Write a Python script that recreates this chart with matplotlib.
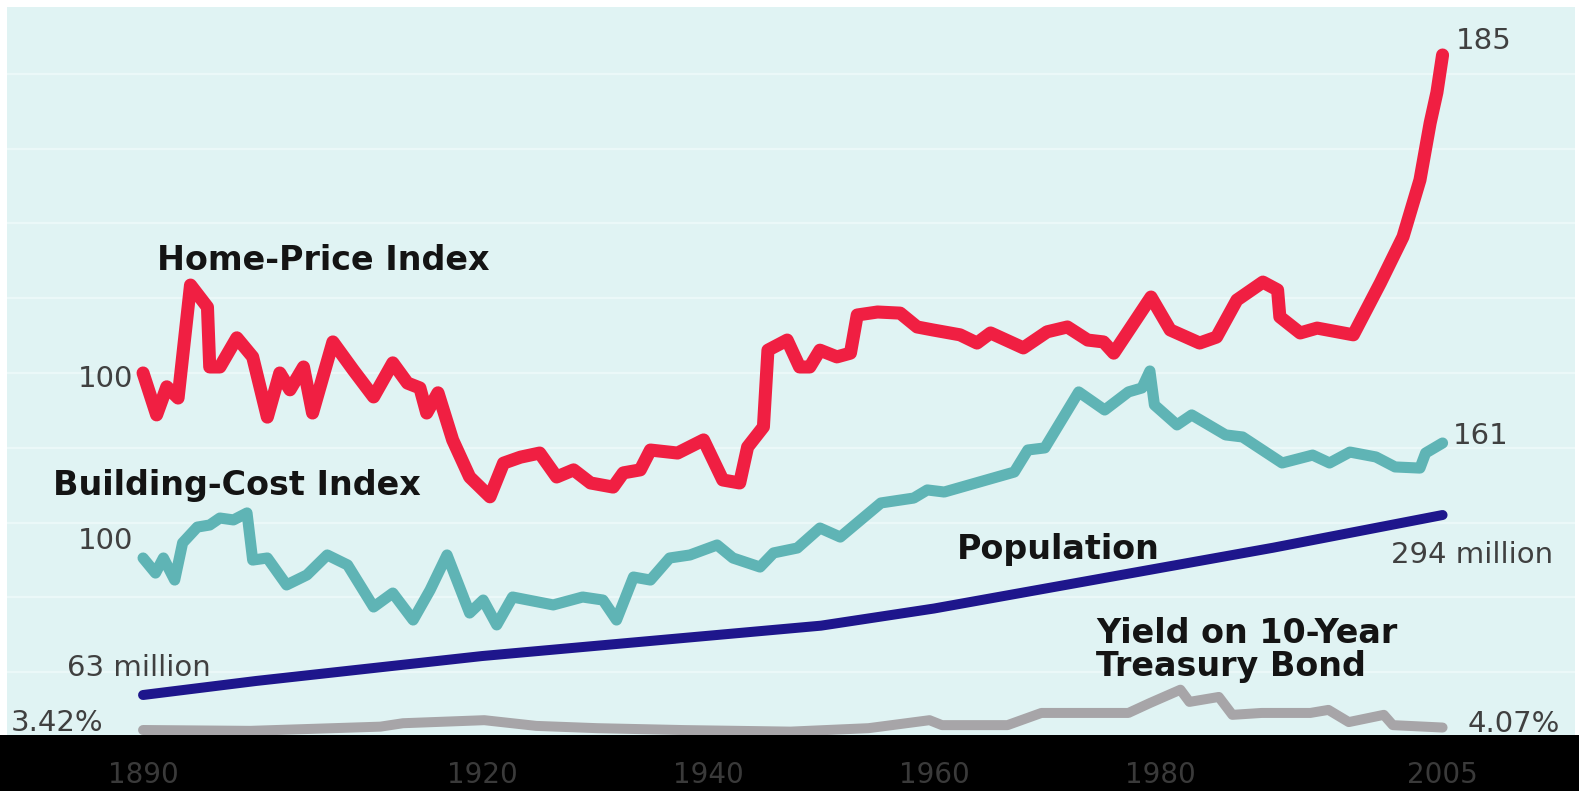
import matplotlib
matplotlib.use("Agg")
import matplotlib.pyplot as plt
from matplotlib.patches import Rectangle

# ---- data ----------------------------------------------------------------
home_years = [1890.0, 1891.2, 1892.1, 1893.1, 1894.2, 1895.7, 1895.9, 1896.8, 1898.3, 1899.7,
              1901.0, 1902.1, 1903.0, 1904.2, 1905.0, 1906.8, 1908.6, 1910.4, 1912.1, 1913.4,
              1914.5, 1915.1, 1916.1, 1917.4, 1918.9, 1920.7, 1921.9, 1923.4, 1925.1, 1926.6,
              1928.1, 1929.6, 1931.6, 1932.5, 1934.0, 1934.9, 1937.3, 1939.6, 1941.3, 1942.8,
              1943.5, 1944.9, 1945.3, 1947.0, 1948.1, 1949.0, 1949.9, 1951.4, 1952.6, 1953.2,
              1955.0, 1957.0, 1958.5, 1959.9, 1962.3, 1963.8, 1965.0, 1967.9, 1970.0, 1971.8,
              1973.6, 1975.0, 1975.9, 1979.2, 1980.9, 1983.5, 1985.0, 1986.8, 1989.1, 1990.4,
              1990.6, 1992.4, 1993.9, 1997.1, 1999.5, 2001.5, 2003.0, 2003.9, 2004.5, 2005.0]
home_index = [100, 88.8, 96.3, 93.3, 123.5, 117.6, 101.6, 101.6, 109.4, 104.3,
              88.2, 100, 95.5, 101.6, 89.3, 108.3, 100.8, 93.6, 102.7, 97.3,
              96.0, 89.3, 94.7, 82.1, 72.2, 66.9, 75.9, 77.5, 78.6, 72.2,
              74.1, 70.6, 69.5, 73.3, 74.1, 79.4, 78.6, 82.1, 71.4, 70.6,
              80.2, 85.6, 106.1, 108.8, 101.6, 101.6, 106.1, 104.3, 105.3, 115.5,
              116.3, 116.0, 112.3, 111.5, 110.2, 108.0, 110.7, 106.7, 111.0, 112.3,
              108.8, 108.3, 105.3, 120.3, 111.5, 108.0, 109.6, 119.5, 124.3, 122.2,
              115.0, 110.7, 112.0, 110.2, 124.1, 136.4, 151.6, 166.8, 175.0, 185]

cost_years = [1890.0, 1891.1, 1891.8, 1892.8, 1893.5, 1894.8, 1895.9, 1896.8, 1898.0, 1899.2,
              1899.7, 1901.0, 1902.7, 1904.5, 1906.3, 1908.1, 1910.4, 1912.1, 1913.9, 1915.4,
              1916.9, 1918.9, 1920.1, 1921.3, 1922.7, 1926.3, 1928.9, 1930.7, 1931.9, 1933.4,
              1934.9, 1936.6, 1938.4, 1940.8, 1942.2, 1944.6, 1945.8, 1947.9, 1949.9, 1951.7,
              1955.3, 1958.2, 1959.4, 1960.9, 1967.1, 1968.3, 1969.8, 1972.8, 1975.1, 1977.2,
              1978.4, 1979.1, 1979.5, 1981.5, 1982.8, 1985.8, 1987.3, 1990.8, 1993.5, 1995.0,
              1996.8, 1999.1, 2000.8, 2003.0, 2003.5, 2005.0]
cost_index = [100, 92.0, 100, 88.3, 108.0, 116.4, 117.5, 121.2, 120.2, 123.9,
              98.9, 100, 85.7, 91.0, 101.6, 96.3, 74.0, 81.4, 67.1, 83.0,
              101.6, 70.8, 77.7, 64.5, 79.3, 75.1, 79.3, 77.7, 67.1, 89.9,
              88.3, 100, 101.6, 106.9, 100, 95.2, 102.7, 105.3, 115.9, 111.1,
              129.2, 131.8, 136.1, 135.0, 145.6, 157.3, 158.4, 188.1, 178.5, 188.1,
              190.2, 199.2, 181.2, 170.6, 175.9, 165.3, 164.2, 150.4, 154.6, 150.4,
              156.2, 153.6, 148.3, 147.7, 155.7, 161]

pop_years = [1890, 1900, 1910, 1920, 1930, 1940, 1950, 1960, 1970, 1980, 1990, 2000, 2005]
pop_millions = [63, 81, 97, 113, 126, 139, 152, 174, 200, 226, 252, 280, 294]

yield_years = [1890, 1899.5, 1911, 1913, 1920.2, 1924.8, 1930.2, 1937.9, 1947.3, 1954.2,
               1959.6, 1960.7, 1966.5, 1969.5, 1977.2, 1979.1, 1981.8, 1982.6, 1985.2, 1986.4,
               1989.0, 1993.3, 1994.9, 1996.7, 1999.8, 2000.6, 2005]
yield_pct = [3.42, 3.2, 4.3, 5.2, 6.0, 4.5, 3.9, 3.4, 3.0, 3.9,
             6.0, 4.7, 4.7, 7.9, 7.9, 10.5, 14.0, 10.8, 12.1, 7.4,
             7.9, 7.9, 8.7, 5.5, 7.4, 4.7, 4.07]

tick_years = [1890, 1920, 1940, 1960, 1980, 2005]
tick_labels = ["1890", "1920", "1940", "1960", "1980", "2005"]

# ---- figure ----------------------------------------------------------------
W, H = 1579, 791
fig = plt.figure(figsize=(W / 100, H / 100), dpi=100, facecolor="white")


def fx(px):
    return px / W


def fy(py):
    return 1 - py / H


# black strip holding the year labels (kept behind the axes)
fig.patches.append(Rectangle((0, 0), 1, 56 / H, transform=fig.transFigure,
                             facecolor="black", edgecolor="none", zorder=-5))

ax = fig.add_axes([fx(7), 56 / H, 1568 / W, 728 / H])
ax.set_facecolor("#e0f3f3")
ax.set_xlim(1877.96, 2016.72)
ax.set_ylim(3.23, 197.83)
for g in range(20, 200, 20):
    ax.axhline(g, color="#ebf8f8", lw=1.6, zorder=0)
for s in ax.spines.values():
    s.set_visible(False)
ax.set_yticks([])
ax.set_xticks(tick_years)
ax.set_xticklabels(tick_labels, color="#3a3a3a", fontsize=20)
ax.tick_params(axis="x", length=0, pad=19)

line_kw = dict(solid_capstyle="round", solid_joinstyle="round")


def overlay(lo, hi):
    a = ax.twinx()
    a.set_ylim(lo, hi)
    a.axis("off")
    return a


ax_yield = overlay(2.11, 193.2)
ax_pop = overlay(11.67, 945.97)
ax_cost = overlay(6.10, 392.3)
ax_home = overlay(3.23, 197.83)

ax_yield.plot(yield_years, yield_pct, color="#a7a5a8", lw=7.2, **line_kw)
ax_pop.plot(pop_years, pop_millions, color="#1e168c", lw=7.2, **line_kw)
ax_cost.plot(cost_years, cost_index, color="#5fb4b5", lw=8.0, **line_kw)
ax_home.plot(home_years, home_index, color="#f01f42", lw=9.4, **line_kw)

# value labels at the ends of each series
val_kw = dict(textcoords="offset pixels", color="#404040", fontsize=21, va="center")
ax_home.annotate("100", (home_years[0], home_index[0]), xytext=(-10, -6), ha="right", **val_kw)
ax_home.annotate("185", (home_years[-1], home_index[-1]), xytext=(13, 14), ha="left", **val_kw)
ax_cost.annotate("100", (cost_years[0], cost_index[0]), xytext=(-10, 17), ha="right", **val_kw)
ax_cost.annotate("161", (cost_years[-1], cost_index[-1]), xytext=(10, 7), ha="left", **val_kw)
ax_pop.annotate("63 million", (pop_years[0], pop_millions[0]), xytext=(68, 27), ha="right", **val_kw)
ax_pop.annotate("294 million", (pop_years[-1], pop_millions[-1]), xytext=(-52, -40), ha="left", **val_kw)
ax_yield.annotate("3.42%", (yield_years[0], yield_pct[0]), xytext=(-40, 7), ha="right", **val_kw)
ax_yield.annotate("4.07%", (yield_years[-1], yield_pct[-1]), xytext=(25, 4), ha="left", **val_kw)

# series names
name_kw = dict(fontsize=24, fontweight="bold", color="#141414", va="center")
fig.text(fx(323), fy(260), "Home-Price Index", ha="center", **name_kw)
fig.text(fx(237), fy(485), "Building-Cost Index", ha="center", **name_kw)
fig.text(fx(1058), fy(549), "Population", ha="center", **name_kw)
fig.text(fx(1096), fy(650), "Yield on 10-Year\nTreasury Bond", ha="left",
         linespacing=1.0, **name_kw)

fig.savefig("out.png", dpi=100, facecolor="white")
